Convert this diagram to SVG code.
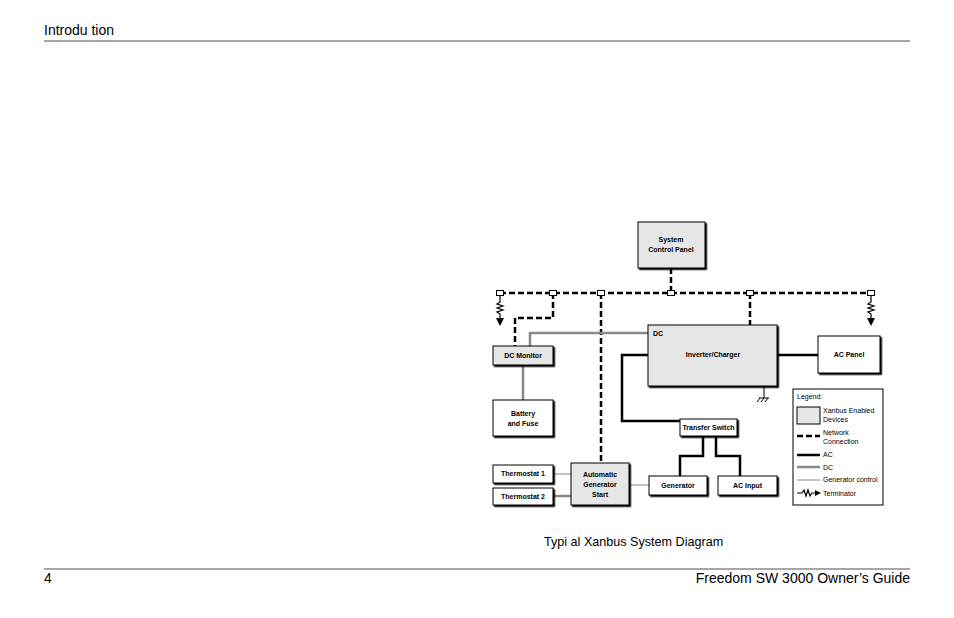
<svg xmlns="http://www.w3.org/2000/svg" width="954" height="618" viewBox="0 0 954 618">
<style>
text{font-family:"Liberation Sans",Arial,sans-serif;fill:#000}
.big{font-size:14px}
.s{font-size:7px;font-weight:bold}
.l{font-size:7px}
.bx{fill:#fff;stroke:#000;stroke-width:1}
.xb{fill:#e6e6e6;stroke:#000;stroke-width:1}
.net{fill:none;stroke:#000;stroke-width:2.5;stroke-dasharray:6,3}
.ac{fill:none;stroke:#000;stroke-width:2.5}
.dc{fill:none;stroke:#888;stroke-width:2.5}
.gc{fill:none;stroke:#888;stroke-width:1}
.cn{fill:#fff;stroke:#000;stroke-width:1}
</style>
<defs>
<filter id="sh" x="-10%" y="-10%" width="130%" height="130%"><feDropShadow dx="1.5" dy="1.5" stdDeviation="0" flood-color="#000"/></filter>
</defs>
<text class="big" x="44" y="35">Introdu  tion</text>
<line x1="44" y1="41" x2="910" y2="41" stroke="#000" stroke-width="0.7"/>
<text x="544" y="546" style="font-size:12.6px">Typi  al Xanbus System Diagram</text>
<line x1="44" y1="569" x2="910" y2="569" stroke="#000" stroke-width="0.7"/>
<text class="big" x="44" y="583">4</text>
<text class="big" x="910" y="583" text-anchor="end">Freedom SW 3000 Owner’s Guide</text>
<g id="connectors">
<path class="net" d="M500 293H871"/>
<path class="net" d="M671 268V293"/>
<path class="net" d="M553 293V318H515V346"/>
<path class="net" d="M601 293V463"/>
<path class="net" d="M750 293V325"/>
<path class="dc" d="M530 346V333H648"/>
<path class="dc" d="M523 365V400"/>
<path class="ac" d="M777 355H818"/>
<path class="ac" d="M648 355H622V421H680"/>
<path class="ac" d="M703 436V456H680V476"/>
<path class="ac" d="M716 436V456H740V476"/>
<path fill="none" stroke="#000" stroke-width="1" d="M764 386V398M759 398H769M760 398L757 402M764 398L761 402M768 398L765 402"/>
<path class="gc" d="M553 474H571M629 485H649"/>
<path class="dc" d="M553 496H571"/>
<path fill="none" stroke="#000" stroke-width="1.2" d="M500 296V302L497 304L503 306L497 308L503 310L497 312L500 314V318M871 296V302L868 304L874 306L868 308L874 310L868 312L871 314V318"/>
<path d="M496 318H504L500 326Z M867 318H875L871 326Z"/>
<g>
<rect class="cn" x="496.5" y="290.5" width="7" height="5"/>
<rect class="cn" x="549.5" y="290.5" width="7" height="5"/>
<rect class="cn" x="597.5" y="290.5" width="7" height="5"/>
<rect class="cn" x="667.5" y="290.5" width="7" height="5"/>
<rect class="cn" x="746.5" y="290.5" width="7" height="5"/>
<rect class="cn" x="867.5" y="290.5" width="7" height="5"/>
</g>
</g>
<g id="scp"><rect class="xb" x="638" y="222" width="67" height="46" filter="url(#sh)"/><text class="s" x="671" y="242" text-anchor="middle">System</text><text class="s" x="671" y="252" text-anchor="middle">Control Panel</text></g>
<g id="dcmon"><rect class="xb" x="493" y="346" width="60" height="19" filter="url(#sh)"/><text class="s" x="523" y="358" text-anchor="middle">DC Monitor</text></g>
<g id="inv"><rect class="xb" x="648" y="325" width="129" height="61" filter="url(#sh)"/><text class="s" x="653" y="336">DC</text><text class="s" x="713" y="357" text-anchor="middle">Inverter/Charger</text></g>
<g id="acpanel"><rect class="bx" x="818" y="336" width="62" height="37" filter="url(#sh)"/><text class="s" x="849" y="357" text-anchor="middle">AC Panel</text></g>
<g id="battery"><rect class="bx" x="493" y="400" width="60" height="36" filter="url(#sh)"/><text class="s" x="523" y="416" text-anchor="middle">Battery</text><text class="s" x="523" y="426" text-anchor="middle">and Fuse</text></g>
<g id="ts"><rect class="bx" x="680" y="419" width="57" height="17" filter="url(#sh)"/><text class="s" x="708.5" y="430" text-anchor="middle">Transfer Switch</text></g>
<g id="gen"><rect class="bx" x="649" y="476" width="58" height="19" filter="url(#sh)"/><text class="s" x="678" y="488" text-anchor="middle">Generator</text></g>
<g id="acin"><rect class="bx" x="718" y="476" width="59" height="19" filter="url(#sh)"/><text class="s" x="747.5" y="488" text-anchor="middle">AC Input</text></g>
<g id="t1"><rect class="bx" x="493" y="465" width="60" height="18" filter="url(#sh)"/><text class="s" x="523" y="476" text-anchor="middle">Thermostat 1</text></g>
<g id="t2"><rect class="bx" x="493" y="488" width="60" height="17" filter="url(#sh)"/><text class="s" x="523" y="499" text-anchor="middle">Thermostat 2</text></g>
<g id="ags"><rect class="xb" x="571" y="463" width="58" height="42" filter="url(#sh)"/><text class="s" x="600" y="477" text-anchor="middle">Automatic</text><text class="s" x="600" y="487" text-anchor="middle">Generator</text><text class="s" x="600" y="497" text-anchor="middle">Start</text></g>
<g id="legend">
<rect class="bx" x="793" y="389" width="90" height="116"/>
<text class="l" x="797" y="399">Legend:</text>
<rect class="xb" x="797" y="407" width="23" height="17"/>
<text class="l" x="823" y="413">Xanbus Enabled</text><text class="l" x="823" y="422">Devices</text>
<path class="net" d="M797 436H820" stroke-dasharray="5,2"/>
<text class="l" x="823" y="435">Network</text><text class="l" x="823" y="444">Connection</text>
<path class="ac" d="M797 455H820"/><text class="l" x="823" y="457">AC</text>
<path class="dc" d="M797 467H820"/><text class="l" x="823" y="470">DC</text>
<path class="gc" d="M797 480H820"/><text class="l" x="823" y="482">Generator control</text>
<path fill="none" stroke="#000" stroke-width="1.2" d="M797 493H802L804 490L806 496L808 490L810 496L812 493H815"/>
<path d="M815 490V496L821 493Z"/>
<text class="l" x="823" y="496">Terminator</text>
</g>
</svg>
